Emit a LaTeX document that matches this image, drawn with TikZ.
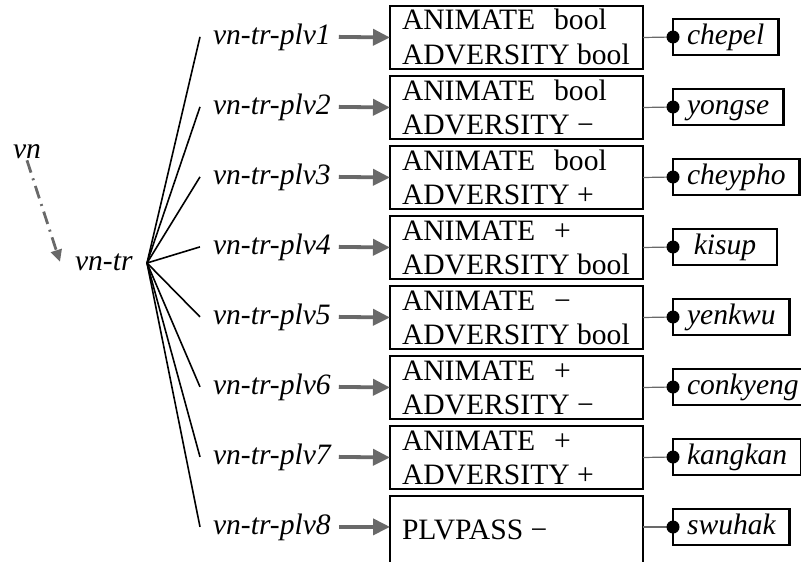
\documentclass[tikz,border=0pt]{standalone}
\usepackage{fontspec}
\setmainfont{Liberation Serif}
\usetikzlibrary{arrows.meta}
\definecolor{arrgray}{RGB}{105,105,105}
\newcommand{\bigfont}{\fontsize{29.6}{34}\selectfont}
\begin{document}
\begin{tikzpicture}[x=1pt,y=-1pt,
  every node/.style={font=\bigfont, inner sep=0pt, outer sep=0pt},
  lab/.style={font=\bigfont\itshape, inner xsep=13pt, anchor=base west},
  featbox/.style={draw, line width=1.5pt, minimum width=253pt, minimum height=63pt},
  word/.style={draw, line width=2.8pt, font=\bigfont\itshape, minimum width=104pt, minimum height=36pt, inner xsep=14pt, text height=20pt, text depth=6pt, anchor=west},
  garr/.style={draw=arrgray, line width=3.8pt, -{Triangle[length=17pt,width=16pt]}},
  tline/.style={line width=1.6pt},
  link/.style={draw=arrgray, line width=1.2pt},
  dasharr/.style={draw=arrgray, line width=2.8pt, dash pattern=on 13pt off 6pt on 2pt off 6pt, -{Triangle[length=12pt,width=11pt,fill=arrgray]}}
]
\useasboundingbox (0,0) rectangle (801,562);
\clip (0,0) rectangle (801,562);
\coordinate (root) at (147,263);
\node[anchor=base west, font=\bigfont\itshape, inner sep=2pt] (vn) at (11,158) {vn};
\node[anchor=base west, font=\bigfont\itshape] (vntr) at (75,270) {vn-tr};
\draw[dasharr] (vn.south) -- ([xshift=-15pt]vntr.west);
\foreach \i/\va/\vb/\w in {1/bool/bool/chepel, 2/bool/−/yongse, 3/bool/+/cheypho, 4/+/bool/kisup, 5/−/bool/yenkwu, 6/+/−/conkyeng, 7/+/+/kangkan}{
  \pgfmathsetmacro\yc{37+70*(\i-1)}
  \node[lab] (lab\i) at (200,\yc+7) {vn-tr-plv\i};
  \draw[tline] (root) -- (lab\i.west);
  \node[featbox] (box\i) at (516.5,\yc+0.5) {};
  \node[anchor=base west] (fa\i) at (402,\yc-7) {ANIMATE\hspace{19pt}\va};
  \node[anchor=base west] (fb\i) at (402,\yc+27) {ADVERSITY \vb};
  \draw[garr] ([xshift=-5pt]lab\i.east) -- (box\i.west);
  \node[word] (w\i) at (673,\yc) {\w};
  \draw[link] (box\i.east) -- (w\i.west);
  \fill (w\i.west) circle (6.5pt);
}
\node[lab] (lab8) at (200,534) {vn-tr-plv8};
\draw[tline] (root) -- (lab8.west);
\node[featbox, minimum height=110pt] (box8) at (516.5,551) {};
\node[anchor=base west] (fp8) at (402,539) {PLVPASS −};
\draw[garr] ([xshift=-5pt]lab8.east) -- (box8.west |- lab8.east);
\node[word] (w8) at (673,527) {swuhak};
\draw[link] (box8.east |- w8.west) -- (w8.west);
\fill (w8.west) circle (6.5pt);
\end{tikzpicture}
\end{document}
